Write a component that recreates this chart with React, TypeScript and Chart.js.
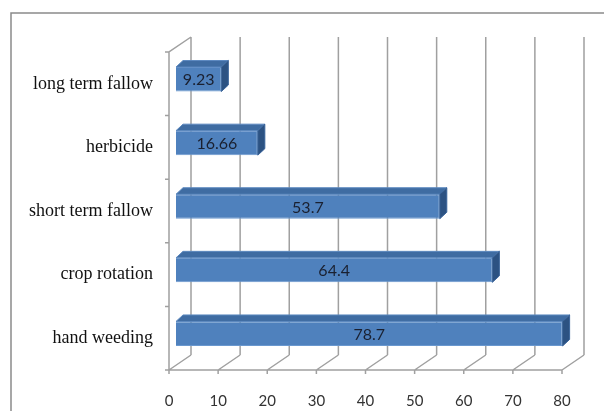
import React, { useEffect, useRef } from "react";
import { Chart, registerables } from "chart.js";

Chart.register(...registerables);

const categories = ["long term fallow", "herbicide", "short term fallow", "crop rotation", "hand weeding"];
const values = [9.23, 16.66, 53.7, 64.4, 78.7];
const valueLabels = ["9.23", "16.66", "53.7", "64.4", "78.7"];
const xTicks = [0, 10, 20, 30, 40, 50, 60, 70, 80];

const DEPTH_X = 22;
const DEPTH_Y = -15;
const BAR_SHIFT_X = 7;
const BAR_SHIFT_Y = -4.5;
const BAR_DX = 7;
const BAR_DY = -6.5;

const threeD = {
  id: "threeD",
  beforeDraw(chart: any) {
    const ctx = chart.ctx;
    ctx.save();
    ctx.strokeStyle = "#8a8a8a";
    ctx.lineWidth = 1.5;
    ctx.beginPath();
    ctx.moveTo(11, 420);
    ctx.lineTo(11, 13);
    ctx.lineTo(620, 13);
    ctx.stroke();
    ctx.restore();
  },
  beforeDatasetsDraw(chart: any) {
    const ctx = chart.ctx;
    const xs = chart.scales.x;
    const ca = chart.chartArea;
    const n = categories.length;
    ctx.save();
    ctx.strokeStyle = "#a0a0a0";
    ctx.lineWidth = 1.5;
    ctx.beginPath();
    for (const t of xTicks) {
      const px = xs.getPixelForValue(t);
      ctx.moveTo(px + DEPTH_X, ca.top + DEPTH_Y);
      ctx.lineTo(px + DEPTH_X, ca.bottom + DEPTH_Y);
      ctx.moveTo(px, ca.bottom);
      ctx.lineTo(px + DEPTH_X, ca.bottom + DEPTH_Y);
      ctx.moveTo(px, ca.bottom);
      ctx.lineTo(px, ca.bottom + 4);
    }
    ctx.moveTo(ca.left, ca.bottom);
    ctx.lineTo(ca.right, ca.bottom);
    ctx.moveTo(ca.left, ca.bottom);
    ctx.lineTo(ca.left, ca.top);
    ctx.lineTo(ca.left + DEPTH_X, ca.top + DEPTH_Y);
    for (let i = 0; i <= n; i++) {
      const py = ca.top + ((ca.bottom - ca.top) * i) / n;
      ctx.moveTo(ca.left - 4, py);
      ctx.lineTo(ca.left, py);
    }
    ctx.stroke();
    ctx.restore();
    ctx.save();
    ctx.translate(BAR_SHIFT_X, BAR_SHIFT_Y);
  },
  afterDatasetsDraw(chart: any) {
    const ctx = chart.ctx;
    const meta = chart.getDatasetMeta(0);
    meta.data.forEach((bar: any) => {
      const x = bar.x;
      const base = bar.base;
      const top = bar.y - bar.height / 2;
      const bottom = bar.y + bar.height / 2;
      ctx.beginPath();
      ctx.moveTo(base, top);
      ctx.lineTo(x, top);
      ctx.lineTo(x + BAR_DX, top + BAR_DY);
      ctx.lineTo(base + BAR_DX, top + BAR_DY);
      ctx.closePath();
      ctx.fillStyle = "#3f6ca2";
      ctx.fill();
      ctx.strokeStyle = "#5b88bf";
      ctx.lineWidth = 1;
      ctx.stroke();
      ctx.beginPath();
      ctx.moveTo(x, top);
      ctx.lineTo(x + BAR_DX, top + BAR_DY);
      ctx.lineTo(x + BAR_DX, bottom + BAR_DY);
      ctx.lineTo(x, bottom);
      ctx.closePath();
      ctx.fillStyle = "#2c5282";
      ctx.fill();
      ctx.strokeStyle = "#3a649a";
      ctx.stroke();
    });
    ctx.restore();
    ctx.save();
    ctx.fillStyle = "#1a2030";
    ctx.font = "16px Lato";
    ctx.textAlign = "center";
    ctx.textBaseline = "middle";
    meta.data.forEach((bar: any, i: number) => {
      ctx.fillText(valueLabels[i], (bar.x + bar.base) / 2 + BAR_SHIFT_X, bar.y + BAR_SHIFT_Y + 1);
    });
    ctx.restore();
  },
};

export default function App() {
  const ref = useRef<HTMLCanvasElement>(null);
  useEffect(() => {
    document.body.style.margin = "0";
    const chart = new Chart(ref.current!, {
      type: "bar",
      data: {
        labels: categories,
        datasets: [
          {
            data: values,
            backgroundColor: "#4f81bd",
            borderColor: "#6a98cf",
            borderWidth: 1,
            categoryPercentage: 1,
            barPercentage: 0.385,
            clip: false as any,
          },
        ],
      },
      options: {
        indexAxis: "y",
        animation: false,
        responsive: false,
        layout: { padding: { left: 0, top: 52, right: 42, bottom: 0 } },
        plugins: { legend: { display: false }, tooltip: { enabled: false } },
        scales: {
          x: {
            min: 0,
            max: 80,
            afterFit: (s: any) => {
              s.height = 41;
            },
            afterBuildTicks: (s: any) => {
              s.ticks = xTicks.map((v) => ({ value: v }));
            },
            grid: { display: false },
            border: { display: false },
            ticks: { color: "#333333", font: { family: "Lato", size: 15 }, padding: 14 },
          },
          y: {
            afterFit: (s: any) => {
              s.width = 169;
            },
            grid: { display: false, drawTicks: false },
            border: { display: false },
            ticks: { color: "#111111", font: { family: "Liberation Serif", size: 18 }, padding: 16 },
          },
        },
      },
      plugins: [threeD],
    });
    return () => chart.destroy();
  }, []);
  return <canvas ref={ref} width={604} height={411} style={{ display: "block" }} />;
}
